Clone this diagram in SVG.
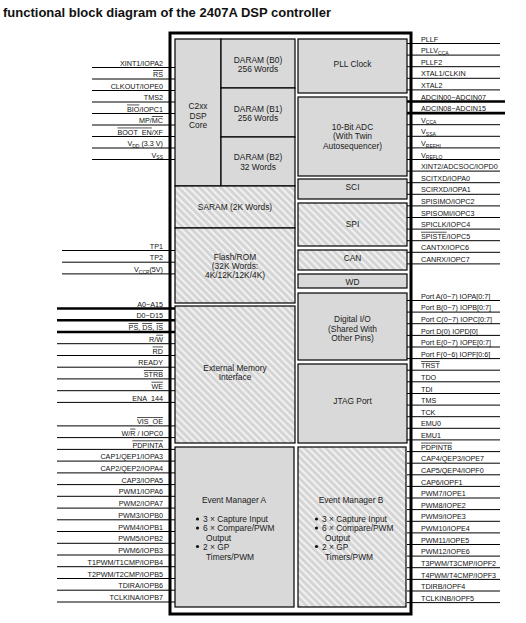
<svg xmlns="http://www.w3.org/2000/svg" width="526" height="623" viewBox="0 0 526 623">
<defs>
<pattern id="hatch" width="5" height="5" patternUnits="userSpaceOnUse" patternTransform="rotate(-45)">
<rect width="5" height="5" fill="#d5d5d5"/>
<rect width="2" height="5" fill="#f1f1f1"/>
</pattern>
<style>
.title{font-family:"Liberation Sans",Arial,sans-serif;font-weight:bold;font-size:13px;fill:#111}
.lbl{font-family:"Liberation Sans",Arial,sans-serif;font-size:7.2px;fill:#111}
.l{text-anchor:end}
.bt{font-family:"Liberation Sans",Arial,sans-serif;font-size:8.4px;fill:#1a1a1a;text-anchor:middle}
.bl{font-family:"Liberation Sans",Arial,sans-serif;font-size:8.4px;fill:#1a1a1a}
.dot{fill:#111}
.solid{fill:#d9d9d9;stroke:#000;stroke-width:1.2}
.hat{fill:url(#hatch);stroke:#000;stroke-width:1.2}
.pin{stroke:#000;stroke-width:1;fill:none}
.bus{stroke:#000;stroke-width:2.6;fill:none}
.ov{text-decoration:overline}
.sub{font-size:5px}
</style>
</defs>
<rect width="526" height="623" fill="#fff"/>
<text class="title" x="3" y="16.5">functional block diagram of the 2407A DSP controller</text>

<g id="connectors">
<path class="pin" d="M92 67.5H175M92 79H175M92 90.5H175M92 102H175M92 113.5H175M92 125H175M92 136.5H175M92 148H175M92 159.5H175"/>
<path class="pin" d="M62 250.5H175M62 262.2H175M62 273.9H175"/>
<path class="bus" d="M57 308.5H175M57 320.2H175M57 332H175"/>
<path class="pin" d="M57 343.7H175M57 355.5H175M57 367.2H175M57 378.9H175M57 390.7H175M57 402.4H175M57 425.9H175M57 437.6H175M57 449.4H175M57 461.1H175M57 472.9H175M57 484.6H175M57 496.3H175M57 508.1H175M57 519.8H175M57 531.5H175M57 543.3H175M57 555H175M57 566.7H175M57 578.5H175M57 590.2H175M57 602H175"/>
<path class="pin" d="M407 43.5H500M407 55.1H500M407 66.7H500M407 78.3H500M407 89.9H500"/>
<path class="bus" d="M407 101.5H505M407 113.1H505"/>
<path class="pin" d="M407 124.7H500M407 136.3H500M407 147.9H500M407 159.5H500M407 171.1H500M407 182.7H500M407 194.3H500M407 205.9H500M407 217.5H500M407 229.1H500M407 240.7H500M407 252.3H500M407 263.9H500"/>
<path class="pin" d="M407 300.5H500M407 312.1H500M407 323.7H500M407 335.4H500M407 347H500M407 358.6H500M407 370.2H500M407 381.8H500M407 393.5H500M407 405.1H500M407 416.7H500M407 428.3H500M407 439.9H500M407 451.6H500M407 463.2H500M407 474.8H500M407 486.4H500M407 498H500M407 509.6H500M407 521.3H500M407 532.9H500M407 544.5H500M407 556.1H500M407 567.7H500M407 579.4H500M407 591H500M407 602.6H500"/>
</g>

<g id="chip">
<rect x="170" y="33" width="241" height="581" fill="#fff" stroke="#000" stroke-width="3"/>
</g>
<g id="stubs">
<path class="pin" d="M170 67.5H175M170 79H175M170 90.5H175M170 102H175M170 113.5H175M170 125H175M170 136.5H175M170 148H175M170 159.5H175M170 250.5H175M170 262.2H175M170 273.9H175M170 343.7H175M170 355.5H175M170 367.2H175M170 378.9H175M170 390.7H175M170 402.4H175M170 425.9H175M170 437.6H175M170 449.4H175M170 461.1H175M170 472.9H175M170 484.6H175M170 496.3H175M170 508.1H175M170 519.8H175M170 531.5H175M170 543.3H175M170 555H175M170 566.7H175M170 578.5H175M170 590.2H175M170 602H175"/>
<path class="bus" d="M170 308.5H175M170 320.2H175M170 332H175"/>
<path class="pin" d="M407 43.5H411M407 55.1H411M407 66.7H411M407 78.3H411M407 89.9H411M407 124.7H411M407 136.3H411M407 147.9H411M407 159.5H411M407 171.1H411M407 182.7H411M407 194.3H411M407 205.9H411M407 217.5H411M407 229.1H411M407 240.7H411M407 252.3H411M407 263.9H411M407 300.5H411M407 312.1H411M407 323.7H411M407 335.4H411M407 347H411M407 358.6H411M407 370.2H411M407 381.8H411M407 393.5H411M407 405.1H411M407 416.7H411M407 428.3H411M407 439.9H411M407 451.6H411M407 463.2H411M407 474.8H411M407 486.4H411M407 498H411M407 509.6H411M407 521.3H411M407 532.9H411M407 544.5H411M407 556.1H411M407 567.7H411M407 579.4H411M407 591H411M407 602.6H411"/>
<path class="bus" d="M407 101.5H411M407 113.1H411"/>
</g>

<g id="c2xx-core">
<rect class="solid" x="175" y="39" width="46" height="147"/>
<text class="bt"><tspan x="198" y="109">C2xx</tspan><tspan x="198" y="118.5">DSP</tspan><tspan x="198" y="128">Core</tspan></text>
</g>
<g id="daram-b0">
<rect class="solid" x="221" y="39" width="74" height="49"/>
<text class="bt"><tspan x="258" y="62.5">DARAM (B0)</tspan><tspan x="258" y="72">256 Words</tspan></text>
</g>
<g id="daram-b1">
<rect class="solid" x="221" y="88" width="74" height="49"/>
<text class="bt"><tspan x="258" y="111.5">DARAM (B1)</tspan><tspan x="258" y="121">256 Words</tspan></text>
</g>
<g id="daram-b2">
<rect class="solid" x="221" y="137" width="74" height="49"/>
<text class="bt"><tspan x="258" y="160">DARAM (B2)</tspan><tspan x="258" y="169.5">32 Words</tspan></text>
</g>
<g id="saram">
<rect class="hat" x="175" y="186" width="120" height="42"/>
<text class="bt" x="235" y="210">SARAM (2K Words)</text>
</g>
<g id="flash">
<rect class="hat" x="175" y="228" width="120" height="75"/>
<text class="bt"><tspan x="235" y="260">Flash/ROM</tspan><tspan x="235" y="269">(32K Words:</tspan><tspan x="235" y="278">4K/12K/12K/4K)</tspan></text>
</g>
<g id="ext-mem">
<rect class="hat" x="175" y="306" width="120" height="137"/>
<text class="bt"><tspan x="235" y="371">External Memory</tspan><tspan x="235" y="380">Interface</tspan></text>
</g>
<g id="ev-a">
<rect class="solid" x="175" y="447" width="119" height="160"/>
<text class="bt" x="234" y="502.5">Event Manager A</text>
<circle class="dot" cx="197.5" cy="519" r="1.6"/>
<circle class="dot" cx="197.5" cy="528" r="1.6"/>
<circle class="dot" cx="197.5" cy="546.5" r="1.6"/>
<text class="bl"><tspan x="203" y="522">3 × Capture Input</tspan><tspan x="203" y="531">6 × Compare/PWM</tspan><tspan x="206" y="540.5">Output</tspan><tspan x="203" y="549.5">2 × GP</tspan><tspan x="206" y="559.5">Timers/PWM</tspan></text>
</g>
<g id="pll">
<rect class="solid" x="298" y="39" width="109" height="54"/>
<text class="bt" x="352.5" y="66.5">PLL Clock</text>
</g>
<g id="adc">
<rect class="solid" x="298" y="97" width="109" height="79"/>
<text class="bt"><tspan x="352.5" y="129.5">10-Bit ADC</tspan><tspan x="352.5" y="139">(With Twin</tspan><tspan x="352.5" y="148.5">Autosequencer)</tspan></text>
</g>
<g id="sci">
<rect class="solid" x="298" y="179" width="109" height="20"/>
<text class="bt" x="352.5" y="190">SCI</text>
</g>
<g id="spi">
<rect class="hat" x="298" y="203" width="109" height="43"/>
<text class="bt" x="352.5" y="227">SPI</text>
</g>
<g id="can">
<rect class="hat" x="298" y="250" width="109" height="20"/>
<text class="bt" x="352.5" y="261">CAN</text>
</g>
<g id="wd">
<rect class="solid" x="298" y="274" width="109" height="14"/>
<text class="bt" x="352.5" y="284.5">WD</text>
</g>
<g id="dig-io">
<rect class="solid" x="298" y="293" width="109" height="67"/>
<text class="bt"><tspan x="352.5" y="322">Digital I/O</tspan><tspan x="352.5" y="331.5">(Shared With</tspan><tspan x="352.5" y="341">Other Pins)</tspan></text>
</g>
<g id="jtag">
<rect class="solid" x="298" y="364" width="109" height="79"/>
<text class="bt" x="352.5" y="403.5">JTAG Port</text>
</g>
<g id="ev-b">
<rect class="hat" x="298" y="447" width="108" height="160"/>
<text class="bt" x="351" y="502.5">Event Manager B</text>
<circle class="dot" cx="316.5" cy="519" r="1.6"/>
<circle class="dot" cx="316.5" cy="528" r="1.6"/>
<circle class="dot" cx="316.5" cy="546.5" r="1.6"/>
<text class="bl"><tspan x="322" y="522">3 × Capture Input</tspan><tspan x="322" y="531">6 × Compare/PWM</tspan><tspan x="325" y="540.5">Output</tspan><tspan x="322" y="549.5">2 × GP</tspan><tspan x="325" y="559.5">Timers/PWM</tspan></text>
</g>

<g id="pins-left" class="lbl l">
<text x="163" y="65.6">XINT1/IOPA2</text>
<text x="163" y="77.1"><tspan class="ov">RS</tspan></text>
<text x="163" y="88.6">CLKOUT/IOPE0</text>
<text x="163" y="100.1">TMS2</text>
<text x="163" y="111.6"><tspan class="ov">BIO</tspan>/IOPC1</text>
<text x="163" y="123.1">MP/<tspan class="ov">MC</tspan></text>
<text x="163" y="134.6"><tspan class="ov">BOOT_EN</tspan>/XF</text>
<text x="163" y="146.1">V<tspan class="sub" dy="1.5">DD</tspan><tspan dy="-1.5"> (3.3 V)</tspan></text>
<text x="163" y="157.6">V<tspan class="sub" dy="1.5">SS</tspan></text>
<text x="163" y="248.6">TP1</text>
<text x="163" y="260.3">TP2</text>
<text x="163" y="272">V<tspan class="sub" dy="1.5">CCP</tspan><tspan dy="-1.5">(5V)</tspan></text>
<text x="163" y="306.6">A0−A15</text>
<text x="163" y="318.3">D0−D15</text>
<text x="163" y="330.1"><tspan class="ov">PS</tspan>, <tspan class="ov">DS</tspan>, <tspan class="ov">IS</tspan></text>
<text x="163" y="341.8">R/<tspan class="ov">W</tspan></text>
<text x="163" y="353.6"><tspan class="ov">RD</tspan></text>
<text x="163" y="365.3">READY</text>
<text x="163" y="377"><tspan class="ov">STRB</tspan></text>
<text x="163" y="388.8"><tspan class="ov">WE</tspan></text>
<text x="163" y="400.5">ENA_144</text>
<text x="163" y="424"><tspan class="ov">VIS_OE</tspan></text>
<text x="163" y="435.7">W/<tspan class="ov">R</tspan> / IOPC0</text>
<text x="163" y="447.5"><tspan class="ov">PDPINTA</tspan></text>
<text x="163" y="459.2">CAP1/QEP1/IOPA3</text>
<text x="163" y="471">CAP2/QEP2/IOPA4</text>
<text x="163" y="482.7">CAP3/IOPA5</text>
<text x="163" y="494.4">PWM1/IOPA6</text>
<text x="163" y="506.2">PWM2/IOPA7</text>
<text x="163" y="517.9">PWM3/IOPB0</text>
<text x="163" y="529.6">PWM4/IOPB1</text>
<text x="163" y="541.4">PWM5/IOPB2</text>
<text x="163" y="553.1">PWM6/IOPB3</text>
<text x="163" y="564.8">T1PWM/T1CMP/IOPB4</text>
<text x="163" y="576.6">T2PWM/T2CMP/IOPB5</text>
<text x="163" y="588.3">TDIRA/IOPB6</text>
<text x="163" y="600.1">TCLKINA/IOPB7</text>
</g>

<g id="pins-right" class="lbl">
<text x="421" y="41.6">PLLF</text>
<text x="421" y="53.2">PLLV<tspan class="sub" dy="1.5">CCA</tspan></text>
<text x="421" y="64.8">PLLF2</text>
<text x="421" y="76.4">XTAL1/CLKIN</text>
<text x="421" y="88">XTAL2</text>
<text x="421" y="99.6">ADCIN00−ADCIN07</text>
<text x="421" y="111.2">ADCIN08−ADCIN15</text>
<text x="421" y="122.8">V<tspan class="sub" dy="1.5">CCA</tspan></text>
<text x="421" y="134.4">V<tspan class="sub" dy="1.5">SSA</tspan></text>
<text x="421" y="146">V<tspan class="sub" dy="1.5">REFHI</tspan></text>
<text x="421" y="157.6">V<tspan class="sub" dy="1.5">REFLO</tspan></text>
<text x="421" y="169.2">XINT2/ADCSOC/IOPD0</text>
<text x="421" y="180.8">SCITXD/IOPA0</text>
<text x="421" y="192.4">SCIRXD/IOPA1</text>
<text x="421" y="204">SPISIMO/IOPC2</text>
<text x="421" y="215.6">SPISOMI/IOPC3</text>
<text x="421" y="227.2">SPICLK/IOPC4</text>
<text x="421" y="238.8"><tspan class="ov">SPISTE</tspan>/IOPC5</text>
<text x="421" y="250.4">CANTX/IOPC6</text>
<text x="421" y="262">CANRX/IOPC7</text>
<text x="421" y="298.6">Port A(0−7) IOPA[0:7]</text>
<text x="421" y="310.2">Port B(0−7) IOPB[0:7]</text>
<text x="421" y="321.8">Port C(0−7) IOPC[0:7]</text>
<text x="421" y="333.5">Port D(0) IOPD[0]</text>
<text x="421" y="345.1">Port E(0−7) IOPE[0:7]</text>
<text x="421" y="356.7">Port F(0−6) IOPF[0:6]</text>
<text x="421" y="368.3"><tspan class="ov">TRST</tspan></text>
<text x="421" y="379.9">TDO</text>
<text x="421" y="391.6">TDI</text>
<text x="421" y="403.2">TMS</text>
<text x="421" y="414.8">TCK</text>
<text x="421" y="426.4">EMU0</text>
<text x="421" y="438">EMU1</text>
<text x="421" y="449.7"><tspan class="ov">PDPINTB</tspan></text>
<text x="421" y="461.3">CAP4/QEP3/IOPE7</text>
<text x="421" y="472.9">CAP5/QEP4/IOPF0</text>
<text x="421" y="484.5">CAP6/IOPF1</text>
<text x="421" y="496.1">PWM7/IOPE1</text>
<text x="421" y="507.7">PWM8/IOPE2</text>
<text x="421" y="519.4">PWM9/IOPE3</text>
<text x="421" y="531">PWM10/IOPE4</text>
<text x="421" y="542.6">PWM11/IOPE5</text>
<text x="421" y="554.2">PWM12/IOPE6</text>
<text x="421" y="565.8">T3PWM/T3CMP/IOPF2</text>
<text x="421" y="577.5">T4PWM/T4CMP/IOPF3</text>
<text x="421" y="589.1">TDIRB/IOPF4</text>
<text x="421" y="600.7">TCLKINB/IOPF5</text>
</g>
</svg>
